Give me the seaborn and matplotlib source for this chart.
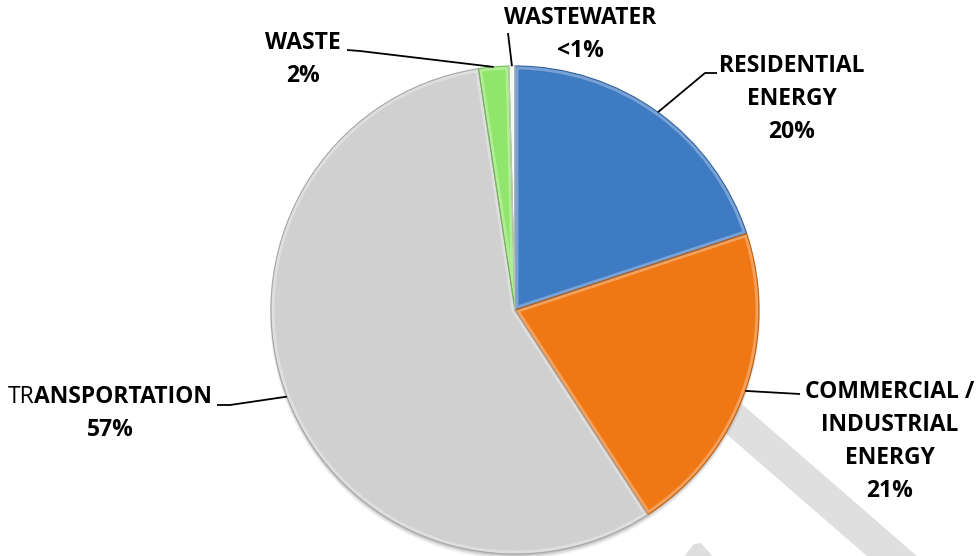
import matplotlib
matplotlib.use("Agg")
import matplotlib.pyplot as plt
import matplotlib.patches as mpatches
import numpy as np
import seaborn as sns

# Emission sources, clockwise from twelve o'clock
sectors = ["RESIDENTIAL\nENERGY", "COMMERCIAL /\nINDUSTRIAL\nENERGY", "TRANSPORTATION", "WASTE", "WASTEWATER"]
shares = [20, 21, 57, 2, 0.4]
colors = ["#3f7bc3", "#f07814", "#d0d0d0", "#8fe66a", "#f2f6ee"]

sns.set_theme(style="white")
plt.rcParams["font.family"] = ["Open Sans", "DejaVu Sans"]
plt.rcParams["text.color"] = "black"

W, H = 979, 556
fig = plt.figure(figsize=(W / 100, H / 100), dpi=100)
ax = fig.add_axes([0, 0, 1, 1])


def py(y):
    # pixel row (top-down) -> axes y (bottom-up)
    return H - y


cx, cy, R = 515, 310, 244
wedges, _ = ax.pie(shares, colors=sns.color_palette(colors), startangle=90, counterclock=False,
                   center=(cx, py(cy)), radius=R, frame=True,
                   wedgeprops=dict(linewidth=0, edgecolor="none"))
ax.set_xlim(0, W)
ax.set_ylim(0, H)
ax.axis("off")

# faint diagonal band behind the pie
band = mpatches.Polygon([(572, py(300)), (622, py(300)), (933, py(570)), (883, py(570))],
                        closed=True, facecolor="#dfdfdf", edgecolor="none", zorder=0)
ax.add_patch(band)
tip = mpatches.Polygon([(683, py(558)), (694, py(544)), (701, py(543)), (714, py(558))],
                       closed=True, facecolor="#dfdfdf", edgecolor="none", zorder=0)
ax.add_patch(tip)


def shade(c, f):
    r, g, b = matplotlib.colors.to_rgb(c)
    return (r * f, g * f, b * f)


# bevel: light inner rim, dark outline
for w, c in zip(wedges, colors):
    w.set_zorder(2)
    rim = mpatches.Wedge(w.center, w.r, w.theta1, w.theta2, facecolor="none",
                         edgecolor=(1, 1, 1, 0.3), linewidth=5, zorder=3)
    ax.add_patch(rim)
    rim.set_clip_path(w)
    edge = mpatches.Wedge(w.center, w.r, w.theta1, w.theta2, facecolor="none",
                          edgecolor=shade(c, 0.8), linewidth=0.8, zorder=4)
    ax.add_patch(edge)

# soft shadow along the lower rim
for k, al in enumerate([0.22, 0.15, 0.08]):
    ax.add_patch(mpatches.Circle((cx, py(cy + 2 + k)), R + k * 0.6, facecolor="#707070",
                                 edgecolor="none", alpha=al, zorder=1))

FS = 16.5
LH = 33


def mid_point(w):
    a = np.deg2rad((w.theta1 + w.theta2) / 2)
    return cx + R * np.cos(a), cy - R * np.sin(a)


def pct(v):
    return "<1%" if v < 1 else f"{v:.0f}%"


# label centers (x, first-line y) and leader elbows
label_pos = [(792, 66), (890, 392), (110, 397), (303, 43), (580, 18)]
leaders = [
    [(705, 73), (717, 73)],
    [(800, 394)],
    [(230, 405), (217, 405)],
    [(360, 51), (347, 50)],
    [(508, 33)],
]

fig.canvas.draw()
rend = fig.canvas.get_renderer()

for w, name, v, (lx, ly), pts in zip(wedges, sectors, shares, label_pos, leaders):
    sx, sy = mid_point(w)
    xs = [sx] + [p[0] for p in pts]
    ys = [py(sy)] + [py(p[1]) for p in pts]
    ax.plot(xs, ys, color="black", linewidth=1.3, zorder=5, solid_capstyle="butt")
    lines = name.split("\n") + [pct(v)]
    for i, t in enumerate(lines):
        yy = py(ly + i * LH)
        if t == "TRANSPORTATION":
            a = ax.text(0, yy, "TR", fontsize=FS, fontweight="normal", ha="left", va="center",
                        color="black")
            b = ax.text(0, yy, "ANSPORTATION", fontsize=FS, fontweight="bold", ha="left", va="center",
                        color="black")
            wa = a.get_window_extent(rend).width
            wb = b.get_window_extent(rend).width
            x0 = lx - (wa + wb) / 2
            a.set_x(x0)
            b.set_x(x0 + wa)
        else:
            ax.text(lx, yy, t, fontsize=FS, fontweight="bold", ha="center", va="center", color="black")

fig.savefig("out.png", dpi=100)
